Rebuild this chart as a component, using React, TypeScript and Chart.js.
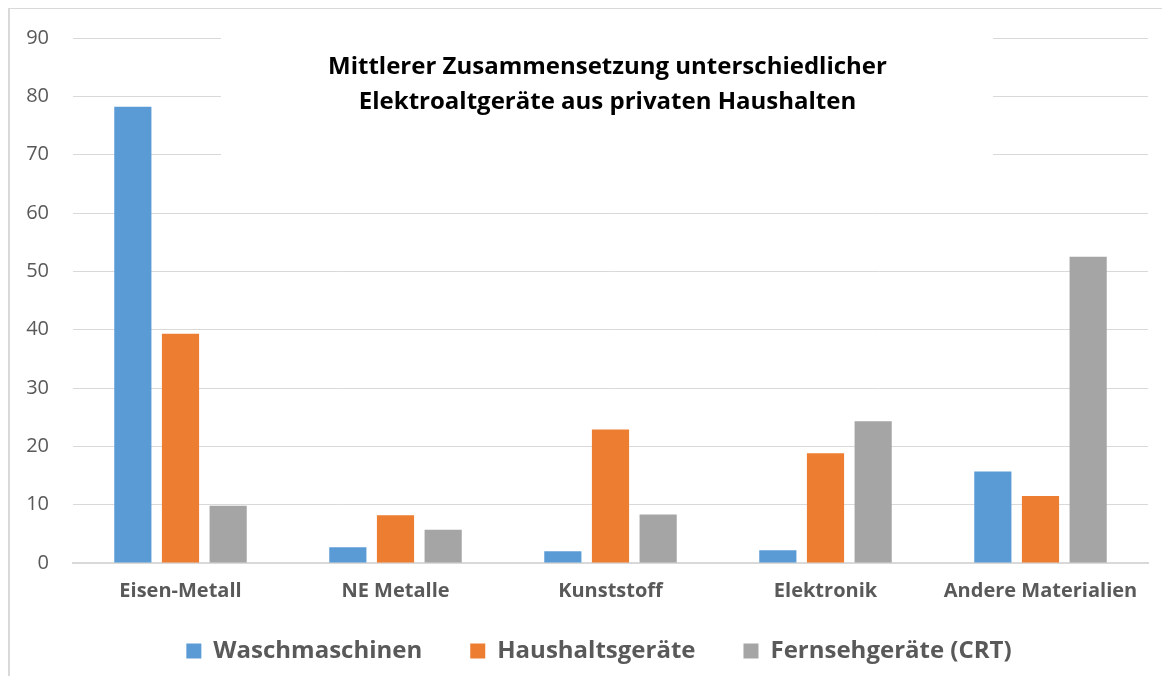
import React, { useEffect, useRef } from "react";
import { Chart, registerables } from "chart.js";

Chart.register(...registerables);

const categories = ["Eisen-Metall", "NE Metalle", "Kunststoff", "Elektronik", "Andere Materialien"];
const seriesNames = ["Waschmaschinen", "Haushaltsgeräte", "Fernsehgeräte (CRT)"];
const waschmaschinen = [78.2, 2.7, 2.0, 2.2, 15.7];
const haushaltsgeraete = [39.3, 8.2, 22.9, 18.8, 11.5];
const fernsehgeraete = [9.8, 5.7, 8.3, 24.3, 52.5];
const seriesColors = ["#5B9BD5", "#ED7D31", "#A5A5A5"];
const titleLines = [
  "Mittlerer Zusammensetzung unterschiedlicher",
  "Elektroaltgeräte aus privaten Haushalten",
];
const yMin = 0;
const yMax = 90;
const yStep = 10;

const FONT = "'Open Sans', 'DejaVu Sans', sans-serif";

const innerTitle = {
  id: "innerTitle",
  beforeLayout(chart: any) {
    const lg = chart.legend;
    if (lg && !lg._fitPatched) {
      const orig = lg.fit.bind(lg);
      lg.fit = () => {
        orig();
        lg.height = Math.max(0, lg.height - 17);
      };
      lg._fitPatched = true;
    }
  },
  beforeDraw(chart: any) {
    const lg = chart.legend;
    if (lg) {
      lg.left = 40;
      lg.top = 582;
    }
  },
  beforeDatasetsDraw(chart: any) {
    const { ctx, chartArea } = chart;
    ctx.save();
    ctx.fillStyle = "#ffffff";
    ctx.fillRect(chartArea.left + 148, chartArea.top - 10, 772, 158);
    ctx.font = `bold 24px ${FONT}`;
    ctx.fillStyle = "#000000";
    ctx.textAlign = "center";
    ctx.textBaseline = "middle";
    const cx = (chartArea.left + chartArea.right) / 2 - 3;
    titleLines.forEach((line, i) => ctx.fillText(line, cx, chartArea.top + 29 + i * 35));
    ctx.restore();
  },
};

export default function App() {
  const ref = useRef<HTMLCanvasElement | null>(null);

  useEffect(() => {
    if (!ref.current) return;
    const data = [waschmaschinen, haushaltsgeraete, fernsehgeraete];
    const chart = new Chart(ref.current, {
      type: "bar",
      data: {
        labels: categories,
        datasets: seriesNames.map((name, i) => ({
          label: name,
          data: data[i],
          backgroundColor: seriesColors[i],
          borderWidth: 0,
          categoryPercentage: 0.665,
          barPercentage: 0.78,
        })),
      },
      options: {
        animation: false,
        responsive: false,
        maintainAspectRatio: false,
        layout: { padding: { top: 29, right: 22, left: 0, bottom: 0 } },
        plugins: {
          title: { display: false },
          tooltip: { enabled: false },
          legend: {
            position: "bottom",
            labels: {
              font: { family: FONT, size: 24, weight: "bold" },
              color: "#595959",
              boxWidth: 15,
              boxHeight: 15,
              padding: 48,
            },
          },
        },
        scales: {
          x: {
            grid: { display: false, drawTicks: false },
            border: { display: true, color: "#D9D9D9", width: 2 },
            ticks: {
              font: { family: FONT, size: 20, weight: "bold", lineHeight: 1.1 },
              color: "#595959",
              padding: 17,
              maxRotation: 0,
            },
            afterFit(scale: any) {
              scale.paddingLeft = 0;
              scale.paddingRight = 0;
            },
          },
          y: {
            min: yMin,
            max: yMax,
            grid: { color: "#D9D9D9", lineWidth: 1, drawTicks: false },
            border: { display: false },
            ticks: {
              stepSize: yStep,
              font: { family: FONT, size: 20 },
              color: "#595959",
              padding: 24,
            },
            afterFit(scale: any) {
              scale.width = 63;
              scale.paddingTop = 0;
              scale.paddingBottom = 0;
            },
          },
        },
      },
      plugins: [innerTitle],
    });
    return () => chart.destroy();
  }, []);

  return (
    <div
      style={{
        borderTop: "1px solid #D9D9D9",
        borderLeft: "2px solid #D9D9D9",
        marginRight: -8,
        marginBottom: -8,
        height: 675,
        background: "#fff",
      }}
    >
      <canvas ref={ref} width={1160} height={675} style={{ display: "block" }} />
    </div>
  );
}
